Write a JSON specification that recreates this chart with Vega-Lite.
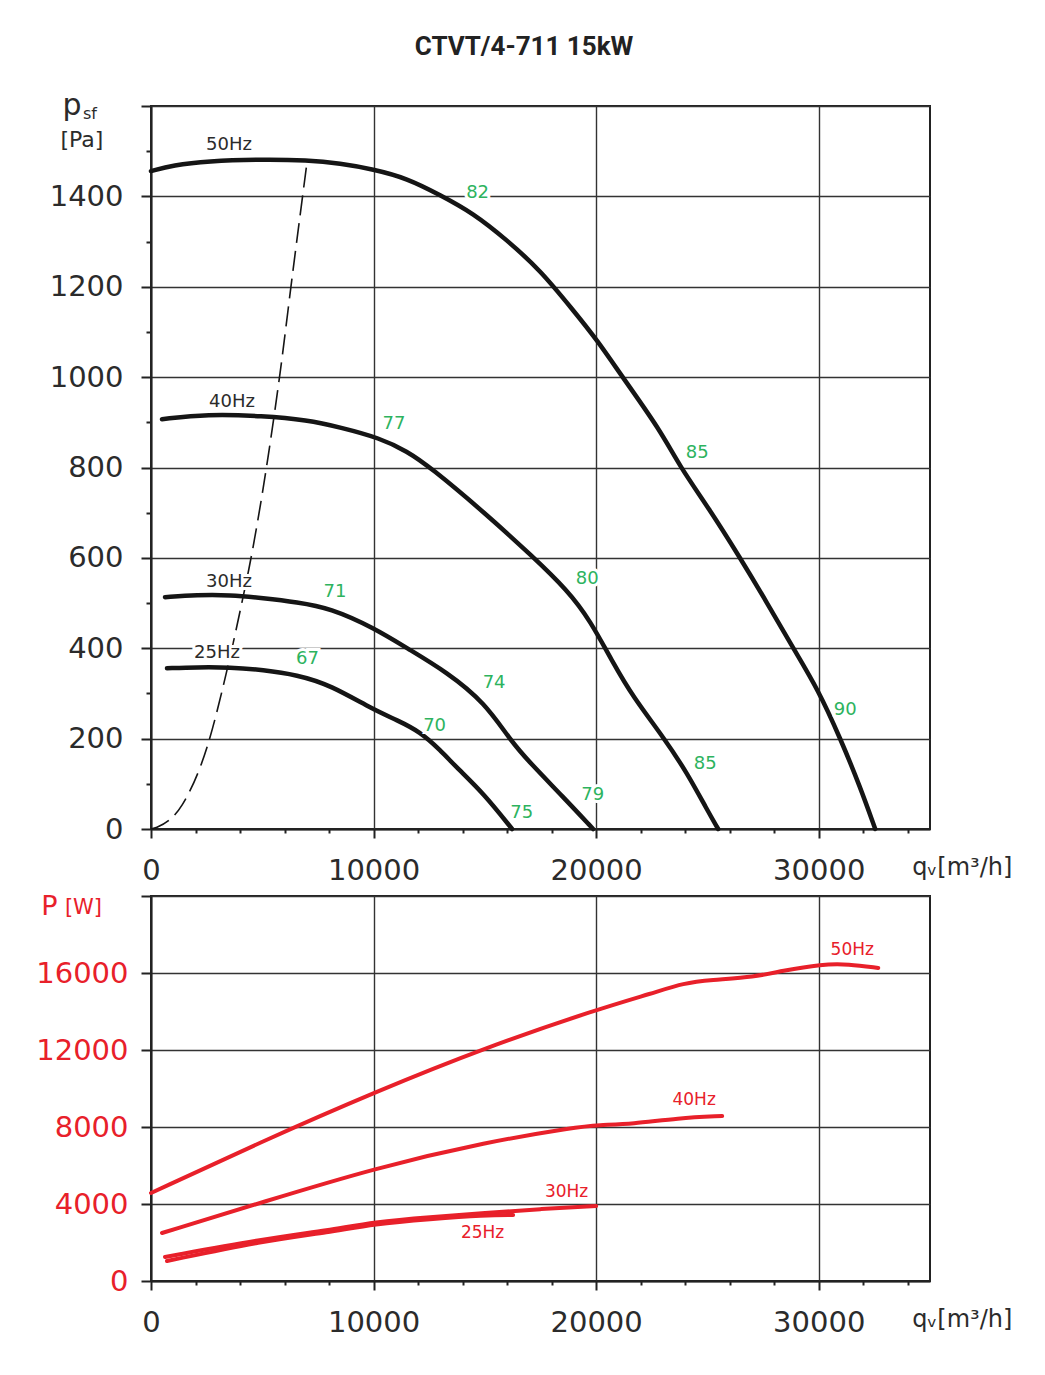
{
  "$schema": "https://vega.github.io/schema/vega-lite/v6.json",
  "padding": {"left": 34, "top": 34, "right": 0, "bottom": 0},
  "background": "white",
  "title": {
    "text": "CTVT/4-711 15kW",
    "font": "Roboto",
    "fontSize": 26,
    "fontWeight": "bold",
    "color": "#222222",
    "anchor": "middle",
    "offset": 30
  },
  "config": {
    "font": "DejaVu Sans",
    "view": {"stroke": "#222222", "strokeWidth": 2},
    "axis": {
      "labelFont": "DejaVu Sans",
      "labelFontSize": 29,
      "labelColor": "#2b2b2b",
      "labelFlush": false,
      "labelOverlap": false,
      "format": "d",
      "tickColor": "#222222",
      "tickWidth": 2,
      "domainColor": "#222222",
      "domainWidth": 2,
      "grid": true,
      "gridColor": "#333333",
      "gridWidth": 1.4
    }
  },
  "datasets": {
    "pcurves": [
      {"s": "50Hz", "q": 0, "p": 1456}, {"s": "50Hz", "q": 989, "p": 1469}, {"s": "50Hz", "q": 2517, "p": 1478},
      {"s": "50Hz", "q": 5034, "p": 1482}, {"s": "50Hz", "q": 7011, "p": 1480}, {"s": "50Hz", "q": 8494, "p": 1473},
      {"s": "50Hz", "q": 9978, "p": 1460}, {"s": "50Hz", "q": 11506, "p": 1440}, {"s": "50Hz", "q": 12989, "p": 1403},
      {"s": "50Hz", "q": 14472, "p": 1363}, {"s": "50Hz", "q": 16000, "p": 1303}, {"s": "50Hz", "q": 17483, "p": 1237},
      {"s": "50Hz", "q": 18966, "p": 1148}, {"s": "50Hz", "q": 20045, "p": 1082}, {"s": "50Hz", "q": 21213, "p": 998},
      {"s": "50Hz", "q": 22876, "p": 883}, {"s": "50Hz", "q": 23775, "p": 801}, {"s": "50Hz", "q": 25034, "p": 712},
      {"s": "50Hz", "q": 26472, "p": 600}, {"s": "50Hz", "q": 27685, "p": 500}, {"s": "50Hz", "q": 28854, "p": 400},
      {"s": "50Hz", "q": 29978, "p": 308}, {"s": "50Hz", "q": 30966, "p": 201}, {"s": "50Hz", "q": 31865, "p": 93},
      {"s": "50Hz", "q": 32539, "p": 0},
      {"s": "40Hz", "q": 494, "p": 907}, {"s": "40Hz", "q": 2517, "p": 918}, {"s": "40Hz", "q": 5034, "p": 914},
      {"s": "40Hz", "q": 7011, "p": 905}, {"s": "40Hz", "q": 8494, "p": 889}, {"s": "40Hz", "q": 10292, "p": 865},
      {"s": "40Hz", "q": 11506, "p": 836}, {"s": "40Hz", "q": 12539, "p": 801}, {"s": "40Hz", "q": 15011, "p": 699},
      {"s": "40Hz", "q": 17169, "p": 602}, {"s": "40Hz", "q": 18697, "p": 529}, {"s": "40Hz", "q": 19730, "p": 462},
      {"s": "40Hz", "q": 20764, "p": 367}, {"s": "40Hz", "q": 21663, "p": 292}, {"s": "40Hz", "q": 23011, "p": 204},
      {"s": "40Hz", "q": 24090, "p": 124}, {"s": "40Hz", "q": 24989, "p": 42}, {"s": "40Hz", "q": 25483, "p": 0},
      {"s": "30Hz", "q": 629, "p": 513}, {"s": "30Hz", "q": 2067, "p": 518}, {"s": "30Hz", "q": 3551, "p": 518},
      {"s": "30Hz", "q": 5034, "p": 511}, {"s": "30Hz", "q": 6562, "p": 502}, {"s": "30Hz", "q": 8045, "p": 489},
      {"s": "30Hz", "q": 10022, "p": 445}, {"s": "30Hz", "q": 11506, "p": 400}, {"s": "30Hz", "q": 13303, "p": 347},
      {"s": "30Hz", "q": 15011, "p": 279}, {"s": "30Hz", "q": 16135, "p": 197}, {"s": "30Hz", "q": 17034, "p": 146},
      {"s": "30Hz", "q": 18517, "p": 71}, {"s": "30Hz", "q": 19865, "p": 0},
      {"s": "25Hz", "q": 719, "p": 356}, {"s": "25Hz", "q": 2067, "p": 358}, {"s": "25Hz", "q": 3551, "p": 358},
      {"s": "25Hz", "q": 5034, "p": 352}, {"s": "25Hz", "q": 6562, "p": 341}, {"s": "25Hz", "q": 8045, "p": 319},
      {"s": "25Hz", "q": 10022, "p": 263}, {"s": "25Hz", "q": 11056, "p": 241}, {"s": "25Hz", "q": 12090, "p": 215},
      {"s": "25Hz", "q": 12989, "p": 175}, {"s": "25Hz", "q": 13753, "p": 135}, {"s": "25Hz", "q": 14921, "p": 80},
      {"s": "25Hz", "q": 16225, "p": 0}
    ],
    "pdash": [
      {"q": 0, "p": 0}, {"q": 270, "p": 4}, {"q": 1393, "p": 53}, {"q": 2517, "p": 181},
      {"q": 3416, "p": 352}, {"q": 4135, "p": 513}, {"q": 4404, "p": 577}, {"q": 5258, "p": 823},
      {"q": 5798, "p": 1009}, {"q": 6382, "p": 1237}, {"q": 7011, "p": 1476}
    ],
    "plabels": [
      {"q": 3506, "p": 1513, "t": "50Hz", "k": "hz"},
      {"q": 3640, "p": 945, "t": "40Hz", "k": "hz"},
      {"q": 3506, "p": 546, "t": "30Hz", "k": "hz"},
      {"q": 2966, "p": 389, "t": "25Hz", "k": "hz"},
      {"q": 14674, "p": 1407, "t": "82", "k": "eff"},
      {"q": 10921, "p": 897, "t": "77", "k": "eff"},
      {"q": 8270, "p": 525, "t": "71", "k": "eff"},
      {"q": 7034, "p": 377, "t": "67", "k": "eff"},
      {"q": 15416, "p": 323, "t": "74", "k": "eff"},
      {"q": 12742, "p": 228, "t": "70", "k": "eff"},
      {"q": 16652, "p": 35, "t": "75", "k": "eff"},
      {"q": 19843, "p": 76, "t": "79", "k": "eff"},
      {"q": 19596, "p": 553, "t": "80", "k": "eff"},
      {"q": 24539, "p": 833, "t": "85", "k": "eff"},
      {"q": 24899, "p": 143, "t": "85", "k": "eff"},
      {"q": 31191, "p": 264, "t": "90", "k": "eff"}
    ],
    "wcurves": [
      {"s": "50Hz", "q": 0, "w": 4571}, {"s": "50Hz", "q": 5034, "w": 7273}, {"s": "50Hz", "q": 10067, "w": 9818},
      {"s": "50Hz", "q": 15101, "w": 12156}, {"s": "50Hz", "q": 20090, "w": 14130}, {"s": "50Hz", "q": 22562, "w": 14961},
      {"s": "50Hz", "q": 23955, "w": 15481}, {"s": "50Hz", "q": 25124, "w": 15636}, {"s": "50Hz", "q": 27146, "w": 15792},
      {"s": "50Hz", "q": 28315, "w": 16104}, {"s": "50Hz", "q": 30157, "w": 16468}, {"s": "50Hz", "q": 31326, "w": 16468},
      {"s": "50Hz", "q": 32674, "w": 16260},
      {"s": "40Hz", "q": 494, "w": 2494}, {"s": "40Hz", "q": 5034, "w": 4104}, {"s": "40Hz", "q": 10067, "w": 5870},
      {"s": "40Hz", "q": 15101, "w": 7221}, {"s": "40Hz", "q": 19101, "w": 8000}, {"s": "40Hz", "q": 20090, "w": 8104},
      {"s": "40Hz", "q": 21618, "w": 8156}, {"s": "40Hz", "q": 23685, "w": 8468}, {"s": "40Hz", "q": 25663, "w": 8571},
      {"s": "30Hz", "q": 629, "w": 1247}, {"s": "30Hz", "q": 5034, "w": 2182}, {"s": "30Hz", "q": 8045, "w": 2649},
      {"s": "30Hz", "q": 10022, "w": 3065}, {"s": "30Hz", "q": 12539, "w": 3325}, {"s": "30Hz", "q": 15011, "w": 3532},
      {"s": "30Hz", "q": 17483, "w": 3740}, {"s": "30Hz", "q": 20000, "w": 3896},
      {"s": "25Hz", "q": 719, "w": 1039}, {"s": "25Hz", "q": 5034, "w": 2078}, {"s": "25Hz", "q": 8045, "w": 2545},
      {"s": "25Hz", "q": 10022, "w": 2961}, {"s": "25Hz", "q": 12539, "w": 3221}, {"s": "25Hz", "q": 15011, "w": 3429},
      {"s": "25Hz", "q": 16270, "w": 3429}
    ],
    "wlabels": [
      {"q": 31506, "w": 17195, "t": "50Hz"},
      {"q": 24404, "w": 9403, "t": "40Hz"},
      {"q": 18674, "w": 4649, "t": "30Hz"},
      {"q": 14899, "w": 2519, "t": "25Hz"}
    ]
  },
  "spacing": -5,
  "vconcat": [
    {
      "width": 779,
      "height": 723,
      "layer": [
        {
          "data": {"name": "pcurves"},
          "mark": {"type": "line", "interpolate": "basis", "color": "#151515", "strokeWidth": 4.5, "strokeCap": "round"},
          "encoding": {
            "x": {
              "field": "q", "type": "quantitative", "title": null,
              "scale": {"domain": [0, 35000], "nice": false, "zero": false},
              "axis": {
                "values": [0,1000,2000,3000,4000,5000,6000,7000,8000,9000,10000,11000,12000,13000,14000,15000,16000,17000,18000,19000,20000,21000,22000,23000,24000,25000,26000,27000,28000,29000,30000,31000,32000,33000,34000,35000],
                "labelExpr": "datum.value % 10000 === 0 && datum.value < 35000 ? datum.label : ''",
                "labelPadding": 18,
                "tickSize": {"condition": {"test": "datum.value % 5000 === 0", "value": 9}, "value": 4},
                "gridOpacity": {"condition": {"test": "datum.value % 5000 === 0", "value": 1}, "value": 0}
              }
            },
            "y": {
              "field": "p", "type": "quantitative", "title": null,
              "scale": {"domain": [0, 1600], "nice": false},
              "axis": {
                "values": [0,50,100,150,200,250,300,350,400,450,500,550,600,650,700,750,800,850,900,950,1000,1050,1100,1150,1200,1250,1300,1350,1400,1450,1500,1550,1600],
                "labelExpr": "datum.value % 200 === 0 && datum.value < 1600 ? datum.label : ''",
                "labelPadding": 18,
                "tickSize": {"condition": {"test": "datum.value % 200 === 0", "value": 10}, "value": 5},
                "gridOpacity": {"condition": {"test": "datum.value % 200 === 0", "value": 1}, "value": 0}
              }
            },
            "detail": {"field": "s", "type": "nominal"}
          }
        },
        {
          "data": {"name": "pdash"},
          "mark": {"type": "line", "interpolate": "monotone", "color": "#151515", "strokeWidth": 1.6, "strokeDash": [20, 8]},
          "encoding": {
            "x": {"field": "q", "type": "quantitative", "title": null},
            "y": {"field": "p", "type": "quantitative", "title": null}
          }
        },
        {
          "data": {"name": "plabels"},
          "mark": {"type": "text", "fontSize": 18, "align": "center", "baseline": "middle", "stroke": "white", "strokeWidth": 6, "fill": "white"},
          "encoding": {
            "x": {"field": "q", "type": "quantitative", "title": null},
            "y": {"field": "p", "type": "quantitative", "title": null},
            "text": {"field": "t", "type": "nominal"}
          }
        },
        {
          "data": {"name": "plabels"},
          "mark": {"type": "text", "fontSize": 18, "align": "center", "baseline": "middle"},
          "encoding": {
            "x": {"field": "q", "type": "quantitative", "title": null},
            "y": {"field": "p", "type": "quantitative", "title": null},
            "text": {"field": "t", "type": "nominal"},
            "color": {
              "field": "k", "type": "nominal", "legend": null,
              "scale": {"domain": ["hz", "eff"], "range": ["#2b2b2b", "#2db35e"]}
            }
          }
        },
        {
          "data": {"values": [{}]},
          "mark": {"type": "text", "text": "p", "fontSize": 30, "align": "center", "baseline": "alphabetic", "color": "#2b2b2b"},
          "encoding": {
            "x": {"datum": -3551, "type": "quantitative", "title": null},
            "y": {"datum": 1580, "type": "quantitative", "title": null}
          }
        },
        {
          "data": {"values": [{}]},
          "mark": {"type": "text", "text": "sf", "fontSize": 16, "align": "center", "baseline": "alphabetic", "color": "#2b2b2b"},
          "encoding": {
            "x": {"datum": -2742, "type": "quantitative", "title": null},
            "y": {"datum": 1571, "type": "quantitative", "title": null}
          }
        },
        {
          "data": {"values": [{}]},
          "mark": {"type": "text", "text": "[Pa]", "fontSize": 22, "align": "center", "baseline": "middle", "color": "#2b2b2b"},
          "encoding": {
            "x": {"datum": -3101, "type": "quantitative", "title": null},
            "y": {"datum": 1524, "type": "quantitative", "title": null}
          }
        },
        {
          "data": {"values": [{}]},
          "mark": {"type": "text", "text": "qᵥ[m³/h]", "fontSize": 24, "align": "center", "baseline": "middle", "color": "#2b2b2b"},
          "encoding": {
            "x": {"datum": 36449, "type": "quantitative", "title": null},
            "y": {"datum": -86, "type": "quantitative", "title": null}
          }
        }
      ]
    },
    {
      "width": 779,
      "height": 385,
      "layer": [
        {
          "data": {"name": "wcurves"},
          "mark": {"type": "line", "interpolate": "basis", "color": "#e8202a", "strokeWidth": 4, "strokeCap": "round"},
          "encoding": {
            "x": {
              "field": "q", "type": "quantitative", "title": null,
              "scale": {"domain": [0, 35000], "nice": false, "zero": false},
              "axis": {
                "values": [0,1000,2000,3000,4000,5000,6000,7000,8000,9000,10000,11000,12000,13000,14000,15000,16000,17000,18000,19000,20000,21000,22000,23000,24000,25000,26000,27000,28000,29000,30000,31000,32000,33000,34000,35000],
                "labelExpr": "datum.value % 10000 === 0 && datum.value < 35000 ? datum.label : ''",
                "labelPadding": 18,
                "tickSize": {"condition": {"test": "datum.value % 5000 === 0", "value": 9}, "value": 4},
                "gridOpacity": {"condition": {"test": "datum.value % 5000 === 0", "value": 1}, "value": 0}
              }
            },
            "y": {
              "field": "w", "type": "quantitative", "title": null,
              "scale": {"domain": [0, 20000], "nice": false},
              "axis": {
                "values": [0,1000,2000,3000,4000,5000,6000,7000,8000,9000,10000,11000,12000,13000,14000,15000,16000,17000,18000,19000,20000],
                "labelExpr": "datum.value % 4000 === 0 && datum.value < 20000 ? datum.label : ''",
                "labelColor": "#e8202a",
                "labelPadding": 13,
                "tickSize": {"condition": {"test": "datum.value % 4000 === 0", "value": 10}, "value": 5},
                "gridOpacity": {"condition": {"test": "datum.value % 4000 === 0", "value": 1}, "value": 0}
              }
            },
            "detail": {"field": "s", "type": "nominal"}
          }
        },
        {
          "data": {"name": "wlabels"},
          "mark": {"type": "text", "fontSize": 17, "align": "center", "baseline": "middle", "stroke": "white", "strokeWidth": 6, "fill": "white"},
          "encoding": {
            "x": {"field": "q", "type": "quantitative", "title": null},
            "y": {"field": "w", "type": "quantitative", "title": null},
            "text": {"field": "t", "type": "nominal"}
          }
        },
        {
          "data": {"name": "wlabels"},
          "mark": {"type": "text", "fontSize": 17, "align": "center", "baseline": "middle", "color": "#e8202a"},
          "encoding": {
            "x": {"field": "q", "type": "quantitative", "title": null},
            "y": {"field": "w", "type": "quantitative", "title": null},
            "text": {"field": "t", "type": "nominal"}
          }
        },
        {
          "data": {"values": [{}]},
          "mark": {"type": "text", "text": "P", "fontSize": 27, "align": "center", "baseline": "alphabetic", "color": "#e8202a"},
          "encoding": {
            "x": {"datum": -4562, "type": "quantitative", "title": null},
            "y": {"datum": 19013, "type": "quantitative", "title": null}
          }
        },
        {
          "data": {"values": [{}]},
          "mark": {"type": "text", "text": "[W]", "fontSize": 21, "align": "center", "baseline": "alphabetic", "color": "#e8202a"},
          "encoding": {
            "x": {"datum": -3034, "type": "quantitative", "title": null},
            "y": {"datum": 19065, "type": "quantitative", "title": null}
          }
        },
        {
          "data": {"values": [{}]},
          "mark": {"type": "text", "text": "qᵥ[m³/h]", "fontSize": 24, "align": "center", "baseline": "middle", "color": "#2b2b2b"},
          "encoding": {
            "x": {"datum": 36449, "type": "quantitative", "title": null},
            "y": {"datum": -2026, "type": "quantitative", "title": null}
          }
        }
      ]
    }
  ]
}
